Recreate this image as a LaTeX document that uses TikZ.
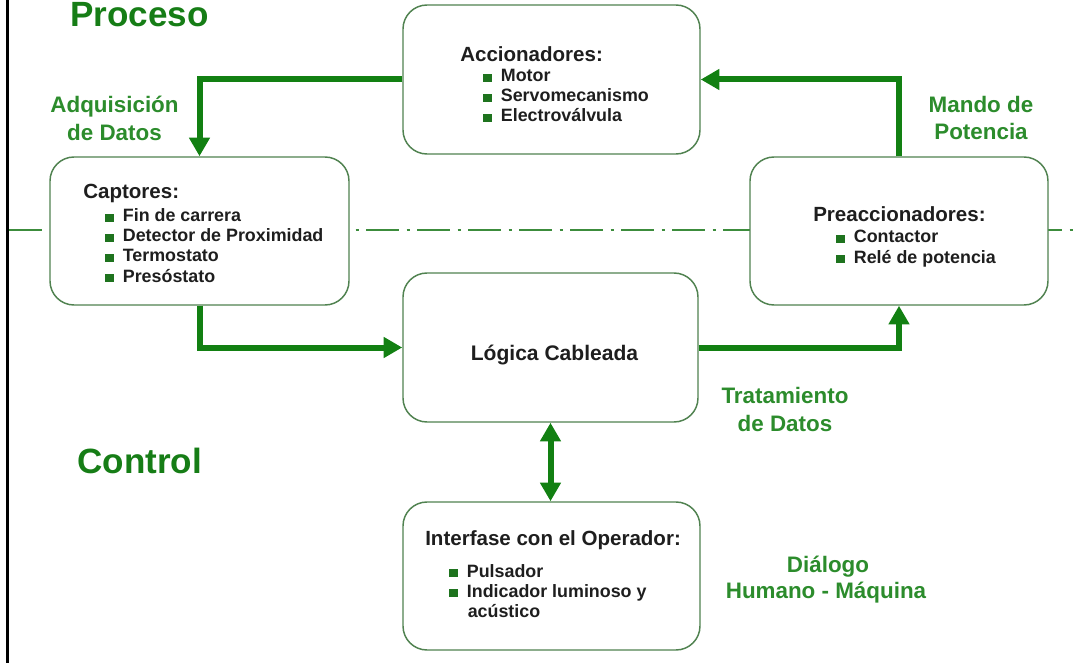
\documentclass[tikz,border=0pt]{standalone}
\usepackage{fontspec}
\setmainfont{Liberation Sans}
\usetikzlibrary{arrows.meta}

\definecolor{flowgreen}{RGB}{18,128,18}
\definecolor{labelgreen}{RGB}{44,140,44}
\definecolor{titlegreen}{RGB}{22,125,22}
\definecolor{framegreen}{RGB}{80,130,80}
\definecolor{axisgreen}{RGB}{60,140,60}
\definecolor{bulletgreen}{RGB}{30,115,30}
\definecolor{inktext}{RGB}{30,30,30}

% small square bullet in front of each list item
\newcommand{\sqbul}{{\color{bulletgreen}\rule{6.2pt}{6.2pt}}\hspace{7pt}}

\begin{document}
\begin{tikzpicture}[x=0.75pt,y=-0.75pt,
  block/.style={draw=framegreen, line width=1.1pt, fill=white,
    rounded corners=18pt, inner sep=0pt},
  head/.style={anchor=base west, inner sep=0pt, text=inktext,
    font=\bfseries\fontsize{15.4pt}{18pt}\selectfont},
  item/.style={anchor=base west, inner sep=0pt, text=inktext,
    font=\bfseries\fontsize{13.4pt}{15pt}\selectfont},
  tag/.style={anchor=base, inner sep=0pt, text=labelgreen,
    font=\bfseries\fontsize{16.8pt}{20pt}\selectfont},
  title/.style={anchor=base west, inner sep=0pt, text=titlegreen,
    font=\bfseries\fontsize{26.3pt}{30pt}\selectfont},
  flow/.style={draw=flowgreen, line width=4.5pt, line join=miter,
    -{Triangle[length=14pt,width=15pt]}},
  flowboth/.style={draw=flowgreen, line width=4.5pt,
    {Triangle[length=14pt,width=15pt]}-{Triangle[length=14pt,width=15pt]}}
]
\useasboundingbox (0,0) rectangle (1075,663);

% left frame rule
\coordinate (ruletop) at (7.3,0);
\coordinate (rulebot) at (7.3,663);
\draw[line width=2pt, black] (ruletop) -- (rulebot);

% process / control boundary
\coordinate (axisl) at (9,230);
\coordinate (axisr) at (1075,230);
\draw[axisgreen, line width=1.5pt,
  dash pattern=on 25pt off 5.5pt on 2.25pt off 5.5pt] (axisl) -- (axisr);

% blocks
\node[block, minimum width=222.75pt, minimum height=111.75pt] (acc) at (551.5,79.5) {};
\node[block, minimum width=224.25pt, minimum height=111pt] (cap) at (199.5,231) {};
\node[block, minimum width=223.5pt, minimum height=111pt] (pre) at (899,231) {};
\node[block, minimum width=221.25pt, minimum height=111.75pt] (log) at (550.5,347.5) {};
\node[block, minimum width=222.75pt, minimum height=111pt] (int) at (551.5,576) {};

% block contents
\node[head] (acch) at (460,62) {Accionadores:};
\node[item] (acc1) at (483,82) {\sqbul Motor};
\node[item] (acc2) at (483,102) {\sqbul Servomecanismo};
\node[item] (acc3) at (483,122) {\sqbul Electroválvula};

\node[head] (caph) at (83,199) {Captores:};
\node[item] (cap1) at (105,222) {\sqbul Fin de carrera};
\node[item] (cap2) at (105,242) {\sqbul Detector de Proximidad};
\node[item] (cap3) at (105,262) {\sqbul Termostato};
\node[item] (cap4) at (105,282) {\sqbul Presóstato};

\node[head] (preh) at (813,222) {Preaccionadores:};
\node[item] (pre1) at (836,243) {\sqbul Contactor};
\node[item] (pre2) at (836,263) {\sqbul Relé de potencia};

\node[head, anchor=base, font=\bfseries\fontsize{15.8pt}{18pt}\selectfont] (logt) at (554.5,360) {Lógica Cableada};

\node[head] (inth) at (425,545) {Interfase con el Operador:};
\node[item] (int1) at (449,577) {\sqbul Pulsador};
\node[item] (int2) at (449,597) {\sqbul Indicador luminoso y};
\node[item] (int3) at (467.5,617) {acústico};

% connectors
\draw[flow] (acc.west) -| (cap.north);
\draw[flow] (pre.north) |- (acc.east);
\draw[flow] (cap.south) |- (log.west);
\draw[flow] (log.east) -| (pre.south);
\draw[flowboth] (log.south) -- (log.south |- int.north);

% green captions
\node[title] (proc) at (70,27) {Proceso};
\node[title] (ctrl) at (77,473) {Control};

\node[tag] (adq1) at (114.5,113) {Adquisición};
\node[tag] (adq2) at (114.5,141) {de Datos};
\node[tag] (man1) at (981,113) {Mando de};
\node[tag] (man2) at (981,140) {Potencia};
\node[tag] (tra1) at (785,403) {Tratamiento};
\node[tag] (tra2) at (785,431) {de Datos};
\node[tag] (dia1) at (828,572) {Diálogo};
\node[tag] (dia2) at (826,598) {Humano - Máquina};
\end{tikzpicture}
\end{document}
